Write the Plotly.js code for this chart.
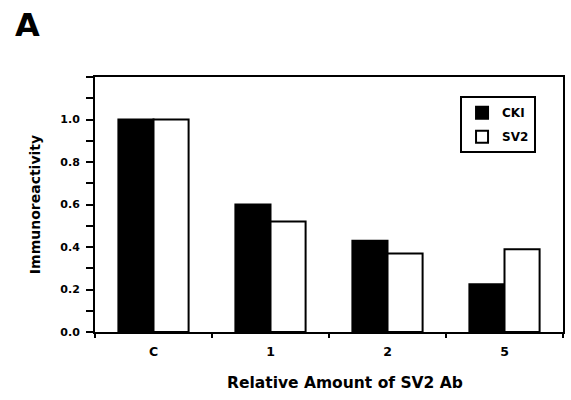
<!DOCTYPE html>
<html>
<head>
<meta charset="utf-8">
<script src="https://cdn.plot.ly/plotly-3.0.1.min.js"></script>
<style>html,body{margin:0;padding:0;background:#fff;}#chart{width:571px;height:400px;}</style>
</head>
<body>
<div id="chart"></div>
<script>
const categories = ["C", "1", "2", "5"];
const ckiValues = [1.0, 0.60, 0.43, 0.225];
const sv2Values = [1.0, 0.52, 0.37, 0.39];
const yTickVals = [0, 0.2, 0.4, 0.6, 0.8, 1.0];
const yTickText = ["0.0", "0.2", "0.4", "0.6", "0.8", "1.0"];

const FONT = "DejaVu Sans, Liberation Sans, Arial, sans-serif";

const traces = [
  {type: "bar", name: "<b>CKI</b>", x: categories, y: ckiValues, legendgroup: "a",
   marker: {color: "#000", line: {color: "#000", width: 2}}},
  {type: "bar", name: "<b>SV2</b>", x: categories, y: sv2Values, legendgroup: "b",
   marker: {color: "#fff", line: {color: "#000", width: 2}}}
];

const layout = {
  width: 571, height: 400,
  margin: {l: 95, r: 8, t: 77, b: 68},
  paper_bgcolor: "#fff", plot_bgcolor: "#fff",
  font: {family: FONT, color: "#000", size: 11},
  barmode: "group", bargap: 0.4, bargroupgap: 0,
  showlegend: true,
  legend: {x: 0.78, y: 0.925, xanchor: "left", yanchor: "top",
           bordercolor: "#000", borderwidth: 2, bgcolor: "#fff",
           font: {family: FONT, size: 12, color: "#000"}, tracegroupgap: 5},
  xaxis: {type: "category", tickson: "boundaries", ticks: "outside", ticklen: 4, tickwidth: 2,
          tickcolor: "#000", showline: true, linewidth: 2, linecolor: "#000", mirror: true,
          showgrid: false, zeroline: false, ticklabelstandoff: 7,
          tickfont: {family: FONT, size: 12.5, color: "#000", weight: "bold"}},
  yaxis: {range: [0, 1.2], tickvals: yTickVals, ticktext: yTickText, ticks: "outside", ticklen: 7, tickwidth: 2,
          tickcolor: "#000", showline: true, linewidth: 2, linecolor: "#000", mirror: true,
          showgrid: false, zeroline: false, ticklabelstandoff: 4,
          minor: {dtick: 0.1, tick0: 0, ticks: "outside", ticklen: 7, tickwidth: 2, tickcolor: "#000", showgrid: false},
          tickfont: {family: FONT, size: 11, color: "#000", weight: "bold"},
          title: {text: "<b>Immunoreactivity</b>", font: {family: FONT, size: 14, color: "#000"}, standoff: 16}},
  annotations: [
    {text: "<b>A</b>", xref: "paper", yref: "paper", x: 0, y: 1.27, xanchor: "left", yanchor: "top",
     showarrow: false, font: {family: FONT, size: 32, color: "#000"}, xshift: -82, yshift: 4},
    {text: "<b>Relative Amount of SV2 Ab</b>", xref: "paper", yref: "paper", x: 0.534, y: 0, xanchor: "center", yanchor: "middle",
     showarrow: false, font: {family: FONT, size: 15.5, color: "#000"}, yshift: -51}
  ]
};

Plotly.newPlot("chart", traces, layout, {displayModeBar: false, staticPlot: true});
</script>
</body>
</html>
